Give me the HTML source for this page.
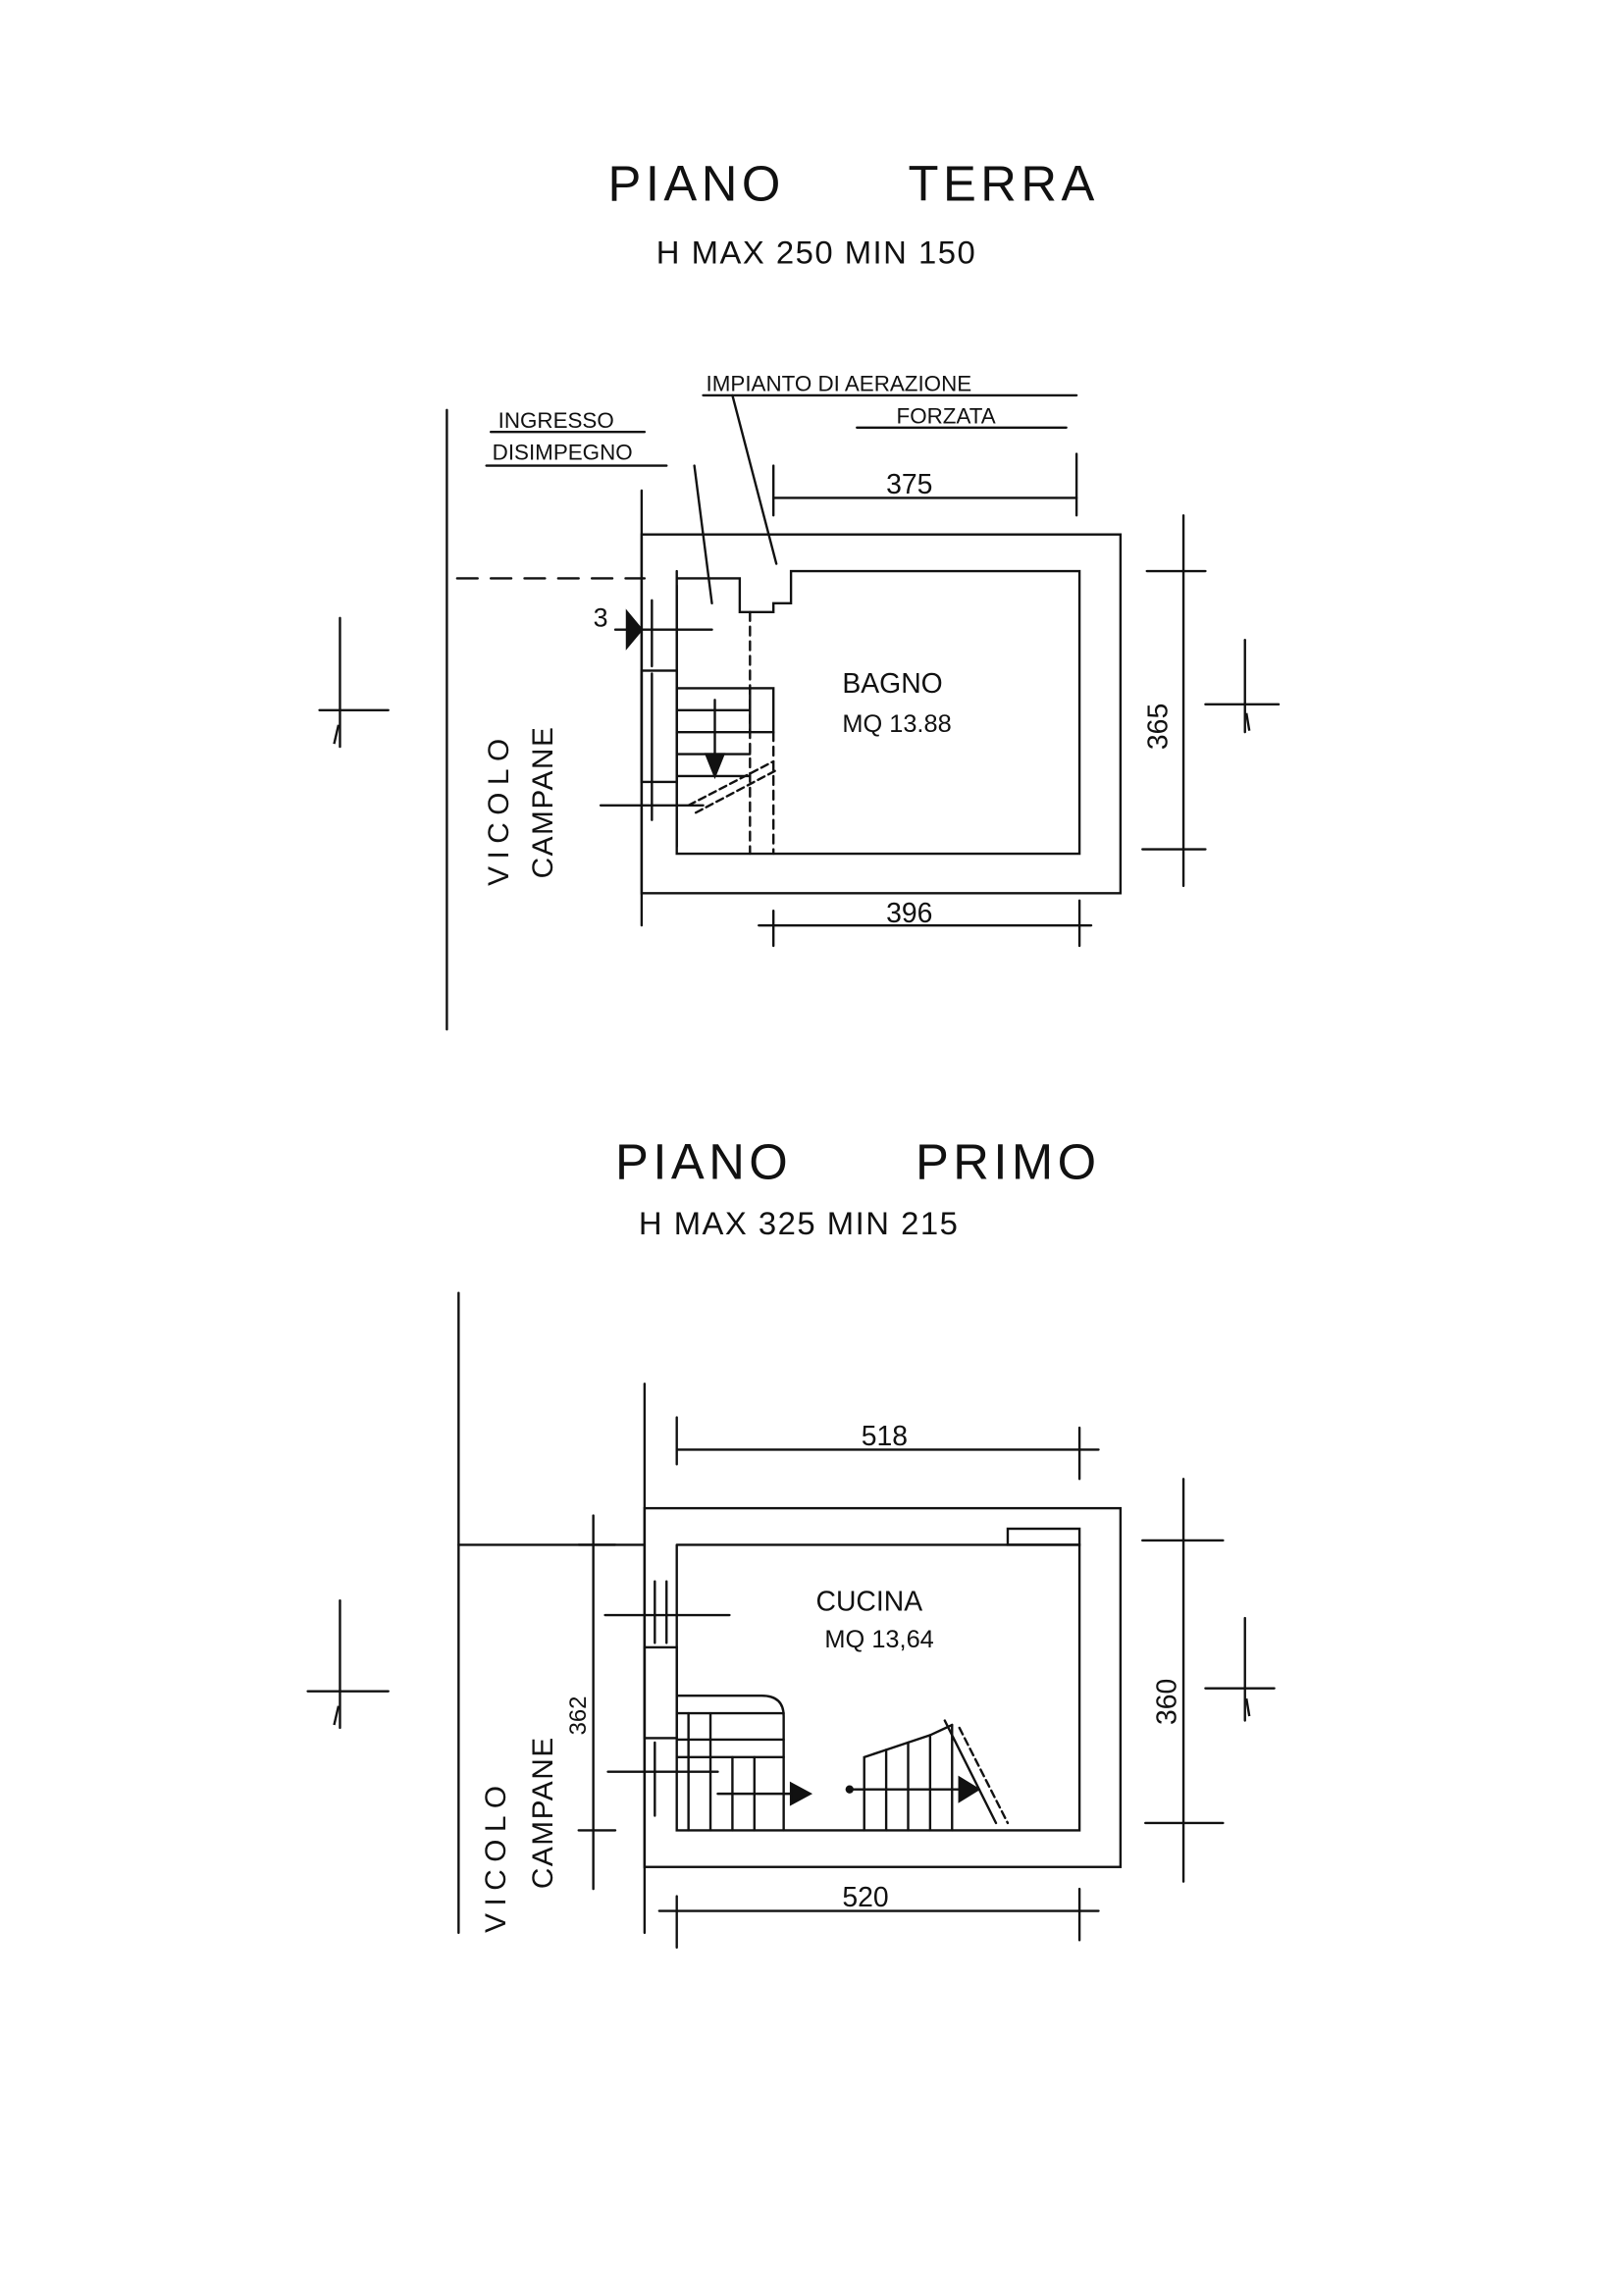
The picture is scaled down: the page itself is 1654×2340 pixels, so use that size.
<!DOCTYPE html>
<html><head><meta charset="utf-8"><style>
html,body{margin:0;padding:0;background:#fff;}
svg{display:block;}
text{font-family:"Liberation Sans",sans-serif;fill:#111;}
</style></head><body>
<svg width="1654" height="2340" viewBox="0 0 1108 1568" xmlns="http://www.w3.org/2000/svg">
<rect width="1108" height="1568" fill="#fff"/>
<g stroke="#111" stroke-width="1.6" fill="none" stroke-linecap="round">
<!-- TOP PLAN -->
<line x1="305" y1="280" x2="305" y2="703"/>
<line x1="312" y1="395" x2="440" y2="395" stroke-dasharray="14,9"/>
<rect x="438" y="365" width="327" height="245"/>
<polyline points="462,390 462,583 737,583 737,390 540,390 540,412 528,412 528,418 505,418 505,395 462,395"/>
<line x1="438" y1="335" x2="438" y2="632"/>
<line x1="462" y1="400" x2="462" y2="578"/>
<line x1="445" y1="410" x2="445" y2="455"/>
<line x1="445" y1="460" x2="445" y2="560"/>
<rect x="438" y="458" width="24" height="76"/>
<line x1="512" y1="418" x2="512" y2="583" stroke-dasharray="6,4"/>
<line x1="528" y1="500" x2="528" y2="583" stroke-dasharray="6,4"/>
<rect x="512" y="470" width="16" height="30"/>
<line x1="462" y1="470" x2="512" y2="470"/>
<line x1="462" y1="485" x2="512" y2="485"/>
<line x1="462" y1="500" x2="512" y2="500"/>
<line x1="462" y1="515" x2="512" y2="515"/>
<line x1="462" y1="530" x2="512" y2="530"/>
<line x1="470" y1="550" x2="528" y2="520" stroke-dasharray="5,3"/>
<line x1="475" y1="555" x2="530" y2="526" stroke-dasharray="5,3"/>
<line x1="488" y1="478" x2="488" y2="525"/>
<polygon points="482,515 494,515 488,530" fill="#111"/>
<line x1="410" y1="550" x2="480" y2="550"/>
<line x1="420" y1="430" x2="486" y2="430"/>
<polygon points="428,418 438,430 428,442" fill="#111"/>
<line x1="474" y1="318" x2="486" y2="412"/>
<line x1="500" y1="270" x2="530" y2="385"/>
<line x1="528" y1="318" x2="528" y2="352"/>
<line x1="735" y1="310" x2="735" y2="352"/>
<line x1="528" y1="340" x2="735" y2="340"/>
<line x1="518" y1="632" x2="745" y2="632"/>
<line x1="528" y1="622" x2="528" y2="646"/>
<line x1="737" y1="615" x2="737" y2="646"/>
<line x1="808" y1="352" x2="808" y2="605"/>
<line x1="783" y1="390" x2="823" y2="390"/>
<line x1="780" y1="580" x2="823" y2="580"/>
<line x1="232" y1="422" x2="232" y2="510"/>
<line x1="218" y1="485" x2="265" y2="485"/>
<line x1="850" y1="437" x2="850" y2="500"/>
<line x1="823" y1="481" x2="873" y2="481"/>
<line x1="335" y1="295" x2="440" y2="295"/>
<line x1="332" y1="318" x2="455" y2="318"/>
<line x1="480" y1="270" x2="735" y2="270"/>
<line x1="585" y1="292" x2="728" y2="292"/>
<!-- BOTTOM PLAN -->
<line x1="313" y1="883" x2="313" y2="1320"/>
<line x1="313" y1="1055" x2="440" y2="1055"/>
<rect x="440" y="1030" width="325" height="245"/>
<polyline points="462,1055 462,1250 737,1250 737,1055 462,1055"/>
<rect x="688" y="1044" width="49" height="11"/>
<line x1="440" y1="945" x2="440" y2="1320"/>
<rect x="440" y="1125" width="22" height="62"/>
<line x1="447" y1="1080" x2="447" y2="1122"/>
<line x1="455" y1="1080" x2="455" y2="1122"/>
<line x1="447" y1="1190" x2="447" y2="1240"/>
<line x1="413" y1="1103" x2="498" y2="1103"/>
<line x1="415" y1="1210" x2="490" y2="1210"/>
<path d="M462 1158 L520 1158 Q535 1158 535 1172 L535 1250"/>
<line x1="462" y1="1170" x2="535" y2="1170"/>
<line x1="462" y1="1188" x2="535" y2="1188"/>
<line x1="462" y1="1200" x2="535" y2="1200"/>
<line x1="470" y1="1170" x2="470" y2="1250"/>
<line x1="485" y1="1170" x2="485" y2="1250"/>
<line x1="500" y1="1200" x2="500" y2="1250"/>
<line x1="515" y1="1200" x2="515" y2="1250"/>
<line x1="490" y1="1225" x2="540" y2="1225"/>
<polygon points="540,1218 553,1225 540,1232" fill="#111"/>
<polyline points="590,1250 590,1200 605,1195 620,1190 635,1185 650,1178"/>
<line x1="605" y1="1195" x2="605" y2="1250"/>
<line x1="620" y1="1190" x2="620" y2="1250"/>
<line x1="635" y1="1185" x2="635" y2="1250"/>
<line x1="650" y1="1178" x2="650" y2="1250"/>
<line x1="645" y1="1175" x2="680" y2="1245"/>
<line x1="655" y1="1180" x2="688" y2="1245" stroke-dasharray="5,3"/>
<line x1="580" y1="1222" x2="655" y2="1222"/>
<polygon points="655,1214 668,1222 655,1230" fill="#111"/>
<circle cx="580" cy="1222" r="2" fill="#111"/>
<line x1="462" y1="968" x2="462" y2="1000"/>
<line x1="737" y1="975" x2="737" y2="1010"/>
<line x1="462" y1="990" x2="750" y2="990"/>
<line x1="450" y1="1305" x2="750" y2="1305"/>
<line x1="462" y1="1295" x2="462" y2="1330"/>
<line x1="737" y1="1290" x2="737" y2="1325"/>
<line x1="808" y1="1010" x2="808" y2="1285"/>
<line x1="780" y1="1052" x2="835" y2="1052"/>
<line x1="782" y1="1245" x2="835" y2="1245"/>
<line x1="405" y1="1035" x2="405" y2="1290"/>
<line x1="395" y1="1055" x2="420" y2="1055"/>
<line x1="395" y1="1250" x2="420" y2="1250"/>
<line x1="232" y1="1093" x2="232" y2="1180"/>
<line x1="210" y1="1155" x2="265" y2="1155"/>
<line x1="850" y1="1105" x2="850" y2="1175"/>
<line x1="823" y1="1153" x2="870" y2="1153"/>
</g>
<g stroke="#111" stroke-width="1.6">
<line x1="231" y1="495" x2="228" y2="508"/>
<line x1="851" y1="487" x2="853" y2="499"/>
<line x1="231" y1="1165" x2="228" y2="1178"/>
<line x1="851" y1="1160" x2="853" y2="1172"/>
</g>
<text x="415" y="137" font-size="34" letter-spacing="3">PIANO</text>
<text x="620" y="137" font-size="34" letter-spacing="3">TERRA</text>
<text x="448" y="180" font-size="22" letter-spacing="1">H MAX 250  MIN 150</text>
<text x="340" y="292" font-size="15">INGRESSO</text>
<text x="336" y="314" font-size="15">DISIMPEGNO</text>
<text x="482" y="267" font-size="15">IMPIANTO DI AERAZIONE</text>
<text x="612" y="289" font-size="15">FORZATA</text>
<text x="605" y="337" font-size="19">375</text>
<text x="605" y="630" font-size="19">396</text>
<text x="405" y="428" font-size="18">3</text>
<text x="575" y="473" font-size="19">BAGNO</text>
<text x="575" y="500" font-size="17">MQ 13.88</text>
<text transform="translate(797,512) rotate(-90)" font-size="19">365</text>
<text transform="translate(347,605) rotate(-90)" font-size="20" letter-spacing="5">VICOLO</text>
<text transform="translate(377,600) rotate(-90)" font-size="20" letter-spacing="1">CAMPANE</text>
<text x="420" y="805" font-size="34" letter-spacing="3">PIANO</text>
<text x="625" y="805" font-size="34" letter-spacing="3">PRIMO</text>
<text x="436" y="843" font-size="22" letter-spacing="1">H MAX 325  MIN 215</text>
<text x="588" y="987" font-size="19">518</text>
<text x="575" y="1302" font-size="19">520</text>
<text x="557" y="1100" font-size="19">CUCINA</text>
<text x="563" y="1125" font-size="17">MQ 13,64</text>
<text transform="translate(803,1178) rotate(-90)" font-size="19">360</text>
<text transform="translate(400,1185) rotate(-90)" font-size="16">362</text>
<text transform="translate(345,1320) rotate(-90)" font-size="20" letter-spacing="5">VICOLO</text>
<text transform="translate(377,1290) rotate(-90)" font-size="20" letter-spacing="1">CAMPANE</text>
</svg>
</body></html>
